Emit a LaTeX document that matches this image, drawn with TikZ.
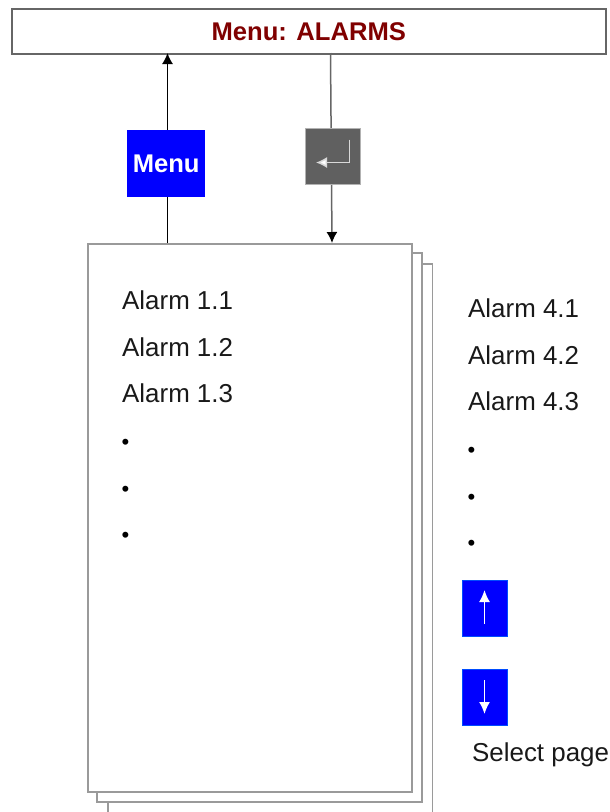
\documentclass[tikz,border=0pt]{standalone}
\usepackage{fontspec}
\setmainfont{Liberation Sans}
\usetikzlibrary{arrows.meta}
\definecolor{pageline}{HTML}{9A9A9A}
\definecolor{topline}{HTML}{666666}
\definecolor{title}{HTML}{800000}
\definecolor{enterfill}{HTML}{606060}
\definecolor{bluefill}{HTML}{0000FF}
\tikzset{
  x=1pt,y=-1pt,
  pagebox/.style={draw=pageline,fill=white,line width=1.5pt},
  itemtext/.style={anchor=west,inner sep=0pt,font=\fontsize{25.9}{30}\selectfont,text=black!90},
  dotitem/.style={anchor=west,inner sep=0pt,font=\fontsize{22}{25}\selectfont,text=black},
  conn/.style={line width=1.5pt,-{Latex[length=11pt,width=11pt]}},
  bluekey/.style={fill=bluefill,draw=blue!70!cyan,line width=1.2pt,minimum width=45pt,minimum height=56pt,inner sep=0pt,anchor=north west},
  whitearrow/.style={draw=white,line width=1.6pt,-{Latex[length=12pt,width=11pt]}},
}
\begin{document}
\begin{tikzpicture}
\useasboundingbox (0,0) rectangle (610,812);
% stacked pages (third runs off the bottom)
\path[pagebox] (108,264) rectangle (432.5,830);
\path[pagebox] (97,253) rectangle (422,802);
\node[pagebox,minimum width=324pt,minimum height=548pt,inner sep=0pt,anchor=north west] (page) at (87,243) {};
% title
\node[draw=topline,line width=1.5pt,fill=white,inner sep=0pt,minimum width=594pt,minimum height=45pt,anchor=north west,text=title,font=\bfseries\fontsize{25.6}{30}\selectfont] (top) at (11,8) {Menu: ALARMS};
% anchors for connectors
\coordinate (mb) at (167.5,243);
\coordinate (mt) at (167.5,53);
\coordinate (et) at (330.5,53);
\coordinate (eb) at (332,243);
% keys
\draw[conn,black] (mb) -- (mt);
\node[fill=bluefill,draw=none,minimum width=78pt,minimum height=67pt,inner sep=0pt,anchor=north west,text=white,font=\bfseries\fontsize{25.6}{30}\selectfont] (menu) at (127,130) {Menu};
\draw[conn,draw=topline,-{Latex[length=11pt,width=11pt,black]}] (et) -- (eb);
\node[fill=enterfill,draw=black!30,line width=1.2pt,minimum width=55pt,minimum height=56pt,inner sep=0pt,anchor=north west] (enter) at (305,128) {};
\draw[draw=black!15,line width=1.5pt,-{Latex[length=11pt,width=11pt,fill=white]}] (349.5,139.5) -- (349.5,162.5) -- (316,162.5);
% page 1 items
\node[itemtext] (a1) at (122,300) {Alarm 1.1};
\node[itemtext] (a2) at (122,347) {Alarm 1.2};
\node[itemtext] (a3) at (122,393) {Alarm 1.3};
\node[dotitem] (a4) at (121.5,444) {•};
\node[dotitem] (a5) at (121.5,491) {•};
\node[dotitem] (a6) at (121.5,537) {•};
% page 4 items
\node[itemtext] (b1) at (468,308) {Alarm 4.1};
\node[itemtext] (b2) at (468,355) {Alarm 4.2};
\node[itemtext] (b3) at (468,401) {Alarm 4.3};
\node[dotitem] (b4) at (467.5,452) {•};
\node[dotitem] (b5) at (467.5,499) {•};
\node[dotitem] (b6) at (467.5,545) {•};
% page keys
\node[bluekey] (up) at (462,579.5) {};
\node[bluekey] (down) at (462,669) {};
\draw[whitearrow] (484.5,624) -- (484.5,590);
\draw[whitearrow] (484.5,680) -- (484.5,714);
\node[itemtext] (sel) at (472,755) {Select page};
\end{tikzpicture}
\end{document}
